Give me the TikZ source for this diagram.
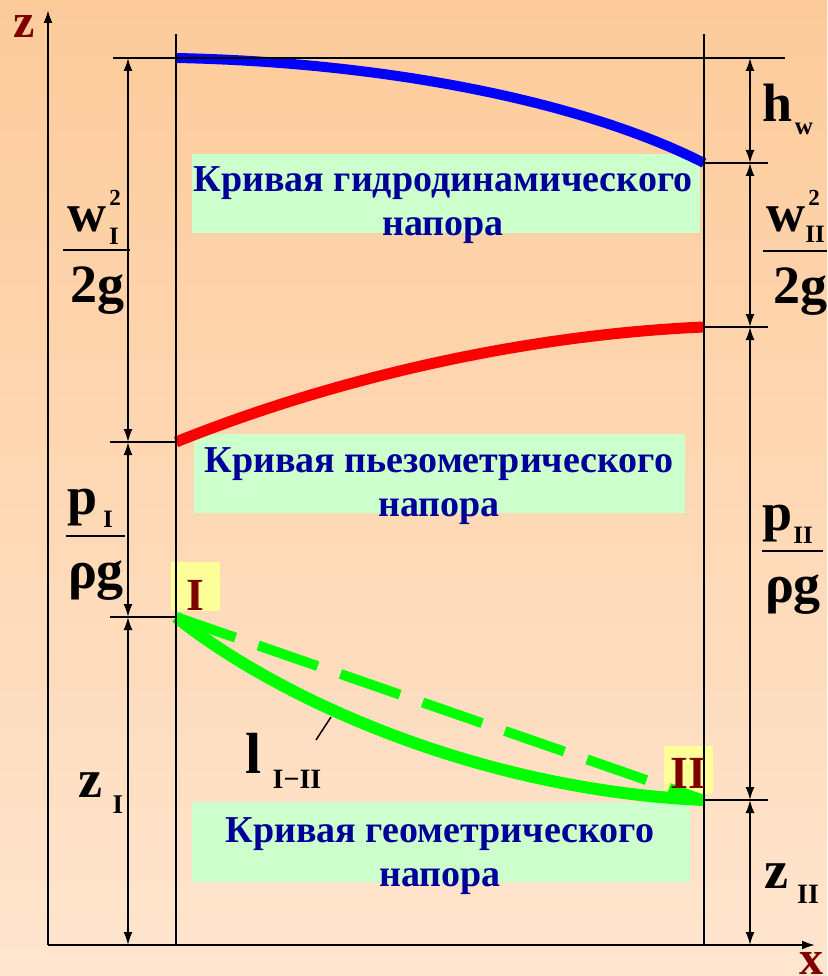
\documentclass[tikz,border=0pt]{standalone}
\usepackage{fontspec}
\setmainfont{Liberation Serif}
\usetikzlibrary{arrows.meta}

\definecolor{bgtop}{RGB}{253,203,154}
\definecolor{bgbottom}{RGB}{255,229,207}
\definecolor{boxgreen}{RGB}{204,255,204}
\definecolor{boxyellow}{RGB}{255,255,153}
\definecolor{textblue}{RGB}{0,0,153}
\definecolor{darkred}{RGB}{128,0,0}
\definecolor{headblue}{RGB}{0,0,255}
\definecolor{piezored}{RGB}{255,0,0}
\definecolor{geomgreen}{RGB}{0,255,0}

\begin{document}
\begin{tikzpicture}[x=1pt,y=-1pt,
        guide/.style={draw=black, line width=1.8pt},
        dimline/.style={line width=1.8pt, {Latex[length=13pt,width=9pt]}-{Latex[length=13pt,width=9pt]}},
        axis/.style={line width=2pt, -{Latex[length=13pt,width=9pt]}},
        big/.style={anchor=base, inner sep=0pt, font=\fontsize{54}{54}\selectfont\bfseries},
        small/.style={anchor=base, inner sep=0pt, font=\fontsize{25}{25}\selectfont\bfseries},
        greenbox/.style={anchor=north west, fill=boxgreen, inner sep=0pt},
        yellowbox/.style={anchor=north west, fill=boxyellow, inner sep=0pt, minimum width=49pt},
        boxtext/.style={anchor=north, inner sep=0pt, align=center, text=textblue, font=\fontsize{38}{44}\selectfont\bfseries},
        sectlabel/.style={anchor=base, inner sep=0pt, text=darkred, font=\fontsize{46}{46}\selectfont\bfseries},
        axislabel/.style={anchor=base, inner sep=0pt, text=darkred, font=\fontsize{48}{48}\selectfont\bfseries}]

        % background
        \useasboundingbox (0,0) rectangle (827,976);
        \shade[top color=bgtop, bottom color=bgbottom] (0,0) rectangle (827,976);

        % levels
        \coordinate (O)       at (48,945);
        \coordinate (zend)    at (48,10);
        \coordinate (xend)    at (815,945);
        \coordinate (Ihead)   at (176,58);
        \coordinate (Ipiezo)  at (176,442);
        \coordinate (Igeo)    at (176,617);
        \coordinate (IIhead)  at (704,163);
        \coordinate (IIpiezo) at (704,327);
        \coordinate (IIgeo)   at (704,800);
        \coordinate (dI1) at (128,58);  \coordinate (dI2) at (128,442);
        \coordinate (dI3) at (128,617); \coordinate (dI4) at (128,945);
        \coordinate (dII1) at (750,58);  \coordinate (dII2) at (750,163);
        \coordinate (dII3) at (750,327); \coordinate (dII4) at (750,800);
        \coordinate (dII5) at (750,945);

        % boxes
        \node at (192,154) [greenbox, minimum width=508pt, minimum height=79pt] (boxHead) {};
        \node at (194,434) [greenbox, minimum width=491pt, minimum height=79pt] (boxPiezo) {};
        \node at (192,802) [greenbox, minimum width=498pt, minimum height=80pt] (boxGeo) {};
        \node at (171,562) [yellowbox, minimum height=49pt] (boxI) {};
        \node at (664,746) [yellowbox, minimum height=48pt] (boxII) {};

        % curves
        \draw[headblue, line width=10pt] (Ihead) .. controls (380,62) and (580,100) .. (IIhead);
        \draw[piezored, line width=11pt] (Ipiezo) .. controls (330,380) and (520,335) .. (IIpiezo);
        \draw[geomgreen, line width=10pt, dash pattern=on 63pt off 24pt] (Igeo) -- (IIgeo);
        \draw[geomgreen, line width=12pt] (Igeo) .. controls (280,700) and (480,790) .. (IIgeo);

        % axes and sections
        \draw[axis] (O) -- (zend);
        \draw[axis] (O) -- (xend);
        \draw[guide] (Ihead |- 0,34) -- (Ihead |- O);
        \draw[guide] (IIhead |- 0,34) -- (IIhead |- O);

        % reference lines
        \draw[guide] (113,58) -- (785,58);
        \draw[guide] (110,442) -- (Ipiezo);
        \draw[guide] (110,617) -- (Igeo);
        \draw[guide] (IIhead) -- (768,163);
        \draw[guide] (IIpiezo) -- (768,327);
        \draw[guide] (IIgeo) -- (768,800);

        % dimensions
        \draw[dimline] (dI1) -- (dI2);
        \draw[dimline] (dI2) -- (dI3);
        \draw[dimline] (dI3) -- (dI4);
        \draw[dimline] (dII1) -- (dII2);
        \draw[dimline] (dII2) -- (dII3);
        \draw[dimline] (dII3) -- (dII4);
        \draw[dimline] (dII4) -- (dII5);

        % box texts
        \node at (443,166) [boxtext] (txtHead) {Кривая гидродинамического\\напора};
        \node at (439,447) [boxtext] (txtPiezo) {Кривая пьезометрического\\напора};
        \node at (440,817) [boxtext] (txtGeo) {Кривая геометрического\\напора};
        \node at (195,610) [sectlabel] (lblI) {I};
        \node at (688,788) [sectlabel] (lblII) {II};

        % axis labels
        \node at (24,38) [axislabel] (lblz) {z};
        \node at (811,974) [axislabel] (lblx) {x};

        % left labels
        \node at (87,232) [big] (wI) {w};
        \node at (115,206) [small, font=\fontsize{23}{23}\selectfont\bfseries] (wIsup) {2};
        \node at (114,244) [small] (wIsub) {I};
        \draw[guide] (63,250) -- (130,250);
        \node at (97,302) [big] (gI) {2g};

        \node at (83,514) [big] (pI) {p};
        \node at (108,527) [small] (pIsub) {I};
        \draw[guide] (66,536) -- (125,536);
        \node at (96,588) [big] (rhoI) {ρg};

        \node at (90,797) [big] (zI) {z};
        \node at (118,813) [small, font=\fontsize{27}{27}\selectfont\bfseries] (zIsub) {I};

        % right labels
        \node at (778,122) [big] (hw) {h};
        \node at (804,135) [small] (hwsub) {w};

        \node at (786,232) [big] (wII) {w};
        \node at (814,206) [small, font=\fontsize{23}{23}\selectfont\bfseries] (wIIsup) {2};
        \node at (815,243) [small] (wIIsub) {II};
        \draw[guide] (763,251) -- (827,251);
        \node at (800,303) [big] (gII) {2g};

        \node at (778,530) [big] (pII) {p};
        \node at (803,543) [small] (pIIsub) {II};
        \draw[guide] (762,551) -- (823,551);
        \node at (793,602) [big] (rhoII) {ρg};

        \node at (776,888) [big] (zII) {z};
        \node at (808,903) [small, font=\fontsize{28}{28}\selectfont\bfseries] (zIIsub) {II};

        % length of the stream line
        \coordinate (lptr) at (331,717);
        \coordinate (ltail) at (316,740);
        \draw[line width=1.5pt] (lptr) -- (ltail);
        \node at (254,773) [big, font=\fontsize{58}{58}\selectfont\bfseries] (lI) {l};
        \node at (297,788) [small, font=\fontsize{28}{28}\selectfont\bfseries] (lIsub) {I−II};
\end{tikzpicture}
\end{document}
